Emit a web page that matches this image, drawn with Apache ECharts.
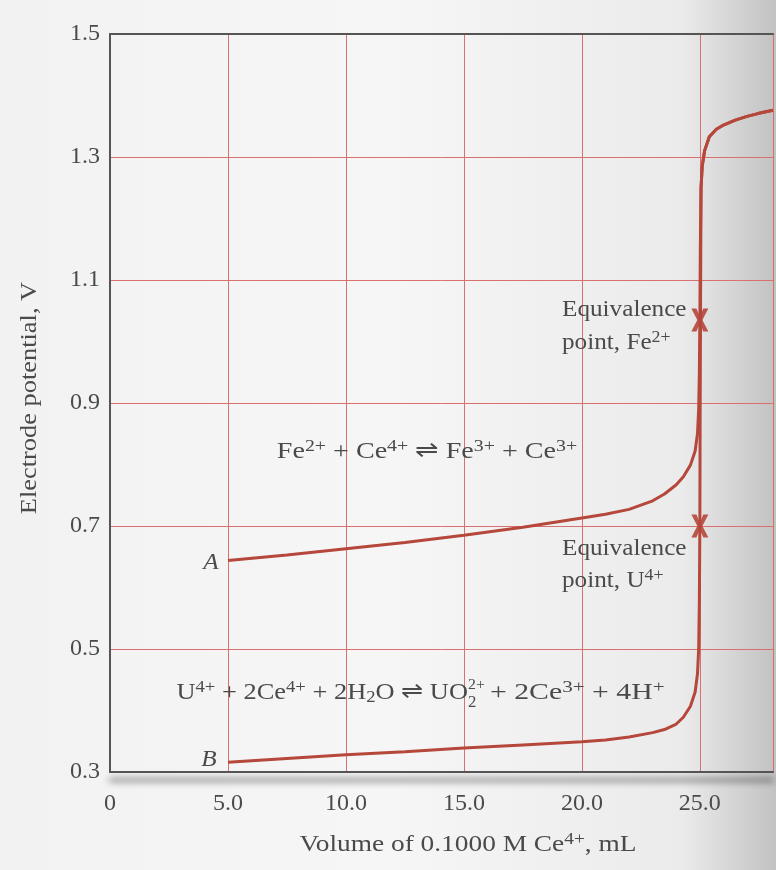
<!DOCTYPE html>
<html>
<head>
<meta charset="utf-8">
<script src="https://cdn.jsdelivr.net/npm/echarts@6/dist/echarts.min.js"></script>
<style>
  html, body { margin: 0; padding: 0; }
  #chart { width: 776px; height: 870px; }
</style>
</head>
<body>
<div id="chart"></div>
<script>
// titration curves: [mL Ce4+, volts]
var feCurve = [
  [5.0, 0.644], [7.5, 0.653], [10.0, 0.663], [12.5, 0.673], [15.0, 0.685],
  [17.5, 0.698], [20.0, 0.713], [21.0, 0.719], [22.0, 0.727], [23.0, 0.741],
  [23.5, 0.752], [24.0, 0.767], [24.3, 0.780], [24.6, 0.799], [24.8, 0.822],
  [24.9, 0.850], [24.95, 0.89], [24.98, 0.95], [25.0, 1.035], [25.02, 1.15],
  [25.05, 1.25], [25.1, 1.285], [25.2, 1.31], [25.4, 1.333], [25.7, 1.345],
  [26.0, 1.352], [26.5, 1.360], [27.0, 1.366], [27.5, 1.371], [28.1, 1.376]
];
var uCurve = [
  [5.0, 0.316], [7.5, 0.322], [10.0, 0.328], [12.5, 0.333], [15.0, 0.339],
  [17.5, 0.344], [20.0, 0.349], [21.0, 0.352], [22.0, 0.357], [23.0, 0.364],
  [23.5, 0.369], [24.0, 0.378], [24.3, 0.389], [24.6, 0.407], [24.8, 0.430],
  [24.9, 0.46], [24.95, 0.50], [24.98, 0.58], [25.0, 0.70], [25.01, 0.85],
  [25.03, 1.06], [25.05, 1.25], [25.1, 1.285], [25.2, 1.31], [25.4, 1.333],
  [25.7, 1.345], [26.0, 1.352], [26.5, 1.360], [27.0, 1.366], [27.5, 1.371],
  [28.1, 1.376]
];
var equivPoints = [[25.0, 1.035], [25.0, 0.70]];
var xTicks = [0, 5, 10, 15, 20, 25];
var yTicks = [0.3, 0.5, 0.7, 0.9, 1.1, 1.3, 1.5];

var curveColor = '#b5473b';
var gridColor = '#d97070';
var textColor = '#4a4a4a';
var serif = 'Liberation Serif, Times New Roman, serif';

var sup = { fontSize: 17, verticalAlign: 'top', lineHeight: 15, fontFamily: serif, color: textColor };
var sub = { fontSize: 17, verticalAlign: 'bottom', lineHeight: 13, fontFamily: serif, color: textColor };
var base = { fontSize: 24, fontFamily: serif, fill: textColor, lineHeight: 27, rich: { sup: sup, sub: sub } };

function label(x, y, text, sx, extra) {
  return {
    type: 'text', x: x, y: y, scaleX: sx, silent: true, z: 20,
    style: Object.assign({}, base, { text: text, verticalAlign: 'middle', align: 'left' }, extra || {})
  };
}

var chart = echarts.init(document.getElementById('chart'));
chart.setOption({
  backgroundColor: {
    type: 'linear', x: 0, y: 0, x2: 1, y2: 0,
    colorStops: [
      { offset: 0, color: '#f2f2f2' },
      { offset: 0.5, color: '#f6f6f6' },
      { offset: 0.88, color: '#ebebeb' },
      { offset: 1, color: '#c2c2c2' }
    ]
  },
  animation: false,
  grid: { left: 110, right: 0, top: 34, bottom: 98 },
  xAxis: [{
    type: 'value', min: 0, max: 28.1, interval: 5,
    axisLine: { lineStyle: { color: '#555', width: 2, shadowColor: 'rgba(0,0,0,0.9)', shadowBlur: 7, shadowOffsetY: 8 } },
    axisTick: { show: false },
    axisLabel: {
      margin: 20, fontSize: 24, fontFamily: serif, color: textColor,
      formatter: function (v) { return xTicks.indexOf(v) < 0 ? '' : (v === 0 ? '0' : v.toFixed(1)); }
    },
    splitLine: { lineStyle: { color: gridColor, width: 1 } }
  }, {
    type: 'value', position: 'top', min: 0, max: 28.1,
    axisLine: { show: true, lineStyle: { color: '#555', width: 2 } },
    axisTick: { show: false }, axisLabel: { show: false }, splitLine: { show: false }
  }],
  yAxis: {
    type: 'value', min: 0.3, max: 1.5, interval: 0.2,
    axisLine: { show: true, lineStyle: { color: '#555', width: 2 } },
    axisTick: { show: false },
    axisLabel: {
      margin: 10, fontSize: 24, fontFamily: serif, color: textColor,
      formatter: function (v) { return v.toFixed(1); }
    },
    splitLine: { lineStyle: { color: gridColor, width: 1 } }
  },
  series: [{
    type: 'line', data: feCurve, showSymbol: false, z: 5,
    lineStyle: { color: curveColor, width: 3 }
  }, {
    type: 'line', data: uCurve, showSymbol: false, z: 5,
    lineStyle: { color: curveColor, width: 3 }
  }, {
    type: 'scatter', data: equivPoints, z: 6,
    symbol: 'path://M0,0 L3,0 L5,8 L7,0 L10,0 L6.5,11 L10,22 L7,22 L5,14 L3,22 L0,22 L3.5,11 Z',
    symbolSize: [17, 23],
    itemStyle: { color: curveColor, opacity: 0.9 }
  }],
  graphic: [
    label(211, 563, 'A', 1.05, { fontStyle: 'italic', align: 'center' }),
    label(209, 760, 'B', 1.05, { fontStyle: 'italic', align: 'center' }),
    label(427, 452, 'Fe{sup|2+} + Ce{sup|4+} \u21CC Fe{sup|3+} + Ce{sup|3+}', 1.17, { align: 'center' }),
    label(468, 693, 'U{sup|4+} + 2Ce{sup|4+} + 2H{sub|2}O \u21CC UO', 1.1, { align: 'right' }),
    label(468, 685, '2+', 1.05, { fontSize: 15, lineHeight: 15 }),
    label(468, 703, '2', 1.05, { fontSize: 16, lineHeight: 16 }),
    label(490, 693, '+ 2Ce{sup|3+} + 4H{sup|+}', 1.24),
    label(562, 310, 'Equivalence', 1.05),
    label(562, 343, 'point, Fe{sup|2+}', 1.05),
    label(562, 549, 'Equivalence', 1.05),
    label(562, 581, 'point, U{sup|4+}', 1.05),
    label(468, 845, 'Volume of 0.1000 M Ce{sup|4+}, mL', 1.14, { align: 'center' }),
    {
      type: 'text', x: 30, y: 398, rotation: Math.PI / 2, scaleX: 1.1, silent: true,
      style: Object.assign({}, base, { text: 'Electrode potential, V', align: 'center', verticalAlign: 'middle' })
    }
  ]
});
window.addEventListener('resize', function () { chart.resize(); });
</script>
</body>
</html>
